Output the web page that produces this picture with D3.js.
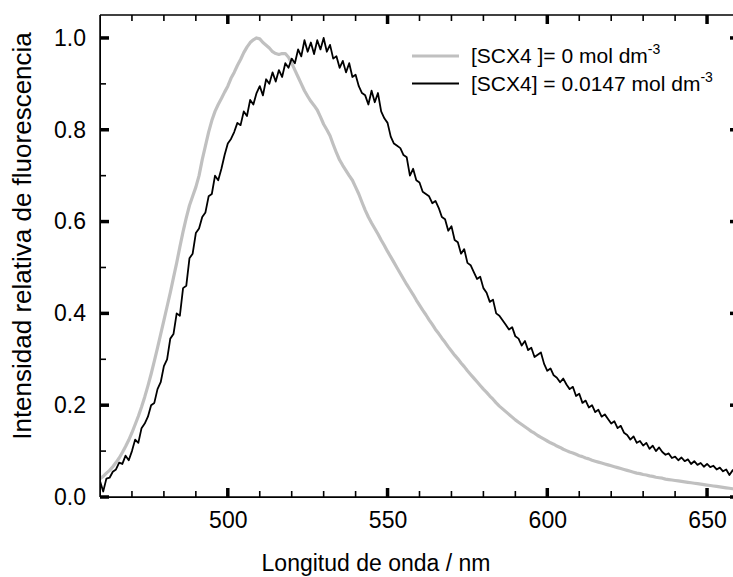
<!DOCTYPE html>
<html>
<head>
<meta charset="utf-8">
<script src="https://cdn.jsdelivr.net/npm/d3@7"></script>
<style>
  html, body { margin: 0; padding: 0; background: #fff; }
  svg { display: block; }
  text { font-family: "Liberation Sans", Arial, sans-serif; fill: #000; }
</style>
</head>
<body>
<div id="chart"></div>
<script>
// Emission spectra, wavelength grid 460–660 nm in 1 nm steps
const wavelengthStart = 460;
const wavelengthStep = 1;

// [SCX4] = 0 mol dm-3 (relative intensity)
const seriesFree = [
  0.040, 0.045, 0.052, 0.058, 0.066, 0.075, 0.085, 0.097, 0.110, 0.124,
  0.140, 0.158, 0.176, 0.196, 0.218, 0.242, 0.268, 0.296, 0.325, 0.355,
  0.385, 0.415, 0.445, 0.478, 0.510, 0.545, 0.578, 0.608, 0.635, 0.655,
  0.675, 0.700, 0.735, 0.765, 0.795, 0.820, 0.840, 0.855, 0.868, 0.882,
  0.895, 0.912, 0.925, 0.940, 0.953, 0.968, 0.980, 0.990, 0.996, 1.000,
  0.998, 0.990, 0.984, 0.978, 0.970, 0.966, 0.964, 0.966, 0.966, 0.958,
  0.945, 0.930, 0.915, 0.900, 0.885, 0.873, 0.862, 0.853, 0.843, 0.828,
  0.812, 0.800, 0.787, 0.768, 0.750, 0.734, 0.722, 0.711, 0.700, 0.690,
  0.675, 0.660, 0.642, 0.625, 0.610, 0.597, 0.585, 0.573, 0.560, 0.548,
  0.535, 0.523, 0.511, 0.499, 0.487, 0.475, 0.463, 0.452, 0.441, 0.429,
  0.418, 0.407, 0.397, 0.386, 0.376, 0.365, 0.356, 0.346, 0.337, 0.327,
  0.318, 0.309, 0.301, 0.292, 0.284, 0.275, 0.267, 0.259, 0.251, 0.243,
  0.235, 0.228, 0.220, 0.213, 0.205, 0.198, 0.192, 0.186, 0.180, 0.174,
  0.168, 0.163, 0.158, 0.153, 0.148, 0.143, 0.139, 0.134, 0.130, 0.126,
  0.122, 0.118, 0.115, 0.111, 0.108, 0.104, 0.101, 0.098, 0.096, 0.093,
  0.090, 0.088, 0.085, 0.083, 0.080, 0.078, 0.076, 0.074, 0.072, 0.070,
  0.068, 0.066, 0.064, 0.062, 0.060, 0.058, 0.056, 0.054, 0.052, 0.051,
  0.049, 0.048, 0.046, 0.045, 0.043, 0.042, 0.041, 0.039, 0.038, 0.037,
  0.036, 0.035, 0.034, 0.033, 0.032, 0.031, 0.030, 0.029, 0.028, 0.027,
  0.026, 0.025, 0.024, 0.023, 0.022, 0.021, 0.020, 0.019, 0.018, 0.018,
  0.017
];

// [SCX4] = 0.0147 mol dm-3 (relative intensity)
const seriesSCX4 = [
  0.035, 0.012, 0.040, 0.042, 0.055, 0.060, 0.075, 0.072, 0.090, 0.080,
  0.100, 0.125, 0.118, 0.150, 0.160, 0.175, 0.200, 0.205, 0.235, 0.250,
  0.285, 0.300, 0.345, 0.355, 0.400, 0.395, 0.455, 0.460, 0.520, 0.530,
  0.575, 0.585, 0.610, 0.620, 0.655, 0.660, 0.700, 0.690, 0.715, 0.745,
  0.770, 0.780, 0.795, 0.815, 0.810, 0.840, 0.830, 0.865, 0.855, 0.880,
  0.895, 0.875, 0.910, 0.900, 0.925, 0.905, 0.930, 0.915, 0.945, 0.935,
  0.955, 0.945, 0.975, 0.960, 0.995, 0.970, 0.990, 0.965, 0.995, 0.975,
  1.000, 0.970, 0.985, 0.955, 0.960, 0.935, 0.950, 0.925, 0.945, 0.915,
  0.920, 0.895, 0.880, 0.875, 0.855, 0.885, 0.860, 0.880, 0.840, 0.825,
  0.815, 0.785, 0.770, 0.765, 0.760, 0.745, 0.740, 0.700, 0.715, 0.690,
  0.685, 0.665, 0.660, 0.655, 0.640, 0.645, 0.630, 0.610, 0.605, 0.580,
  0.590, 0.560, 0.555, 0.530, 0.540, 0.510, 0.505, 0.490, 0.475, 0.480,
  0.455, 0.445, 0.425, 0.430, 0.400, 0.395, 0.385, 0.375, 0.365, 0.370,
  0.350, 0.345, 0.330, 0.340, 0.320, 0.325, 0.305, 0.310, 0.315, 0.290,
  0.275, 0.280, 0.265, 0.260, 0.250, 0.258, 0.245, 0.235, 0.240, 0.220,
  0.225, 0.205, 0.210, 0.195, 0.200, 0.185, 0.190, 0.175, 0.180, 0.170,
  0.160, 0.165, 0.150, 0.155, 0.140, 0.135, 0.125, 0.132, 0.118, 0.122,
  0.112, 0.118, 0.105, 0.112, 0.100, 0.108, 0.098, 0.092, 0.095, 0.085,
  0.088, 0.080, 0.086, 0.078, 0.082, 0.072, 0.078, 0.070, 0.074, 0.066,
  0.072, 0.065, 0.068, 0.060, 0.064, 0.056, 0.060, 0.048, 0.058, 0.062,
  0.070
];

const xMajorTicks = [500, 550, 600, 650];
const xMinorTicks = [470, 480, 490, 510, 520, 530, 540, 560, 570, 580, 590, 610, 620, 630, 640, 660];
const yMajorTicks = [0.0, 0.2, 0.4, 0.6, 0.8, 1.0];
const yMinorTicks = [0.1, 0.3, 0.5, 0.7, 0.9];

const legendLabels = [
  { main: "[SCX4 ]= 0 mol dm", sup: "-3" },
  { main: "[SCX4] = 0.0147 mol dm", sup: "-3" }
];
const seriesColors = ["#c0c0c0", "#000000"];
const seriesWidths = [3.2, 1.8];

const width = 733, height = 577;
const margin = { left: 100, top: 15, right: 739, bottom: 497 };
const tickFont = 23, xTitleFont = 23, yTitleFont = 26, legendFont = 21;

const svg = d3.select("#chart").append("svg")
  .attr("width", width).attr("height", height);

const x = d3.scaleLinear().domain([460, 660]).range([margin.left, margin.right]);
const y = d3.scaleLinear().domain([0, 1.05]).range([margin.bottom, margin.top]);

const toPoints = arr => arr.map((v, i) => [wavelengthStart + i * wavelengthStep, v]);

const clipId = "plot-clip";
svg.append("clipPath").attr("id", clipId)
  .append("rect")
  .attr("x", margin.left).attr("y", margin.top)
  .attr("width", margin.right - margin.left).attr("height", margin.bottom - margin.top);

const line = d3.line().x(d => x(d[0])).y(d => y(d[1]));

const plot = svg.append("g").attr("clip-path", `url(#${clipId})`);
[seriesFree, seriesSCX4].forEach((s, i) => {
  plot.append("path")
    .datum(toPoints(s))
    .attr("fill", "none")
    .attr("stroke", seriesColors[i])
    .attr("stroke-width", seriesWidths[i])
    .attr("stroke-linejoin", "round")
    .attr("d", line);
});

// Frame and tick labels via d3 axes (tick lines drawn separately below)
const frameWidth = 1.5;
const bottomAxis = svg.append("g").attr("transform", `translate(0,${margin.bottom})`)
  .call(d3.axisBottom(x).tickValues(xMajorTicks).tickSize(0).tickSizeOuter(0)
    .tickFormat(d3.format("d")).tickPadding(15));
bottomAxis.selectAll(".tick text").attr("font-size", tickFont).attr("font-family", "Liberation Sans, Arial, sans-serif");

const leftAxis = svg.append("g").attr("transform", `translate(${margin.left},0)`)
  .call(d3.axisLeft(y).tickValues(yMajorTicks).tickSize(0).tickSizeOuter(0)
    .tickFormat(d3.format(".1f")).tickPadding(14));
leftAxis.selectAll(".tick text").attr("font-size", tickFont).attr("font-family", "Liberation Sans, Arial, sans-serif");

const frame = svg.append("g").attr("stroke", "#000").attr("stroke-width", frameWidth).attr("fill", "none");
frame.append("line").attr("x1", margin.left).attr("x2", margin.right).attr("y1", margin.bottom).attr("y2", margin.bottom);
frame.append("line").attr("x1", margin.left).attr("x2", margin.right).attr("y1", margin.top).attr("y2", margin.top);
frame.append("line").attr("x1", margin.left).attr("x2", margin.left).attr("y1", margin.top).attr("y2", margin.bottom);
frame.append("line").attr("x1", margin.right).attr("x2", margin.right).attr("y1", margin.top).attr("y2", margin.bottom);

// Inward ticks on all four sides
const majorLen = 9, minorLen = 6, majorW = 3.5, minorW = 1.6;
const ticks = svg.append("g").attr("stroke", "#000");
const xTick = (vals, len, w) => {
  ticks.selectAll(null).data(vals).enter().append("line")
    .attr("x1", d => x(d)).attr("x2", d => x(d))
    .attr("y1", margin.bottom).attr("y2", margin.bottom - len)
    .attr("stroke-width", w);
  ticks.selectAll(null).data(vals).enter().append("line")
    .attr("x1", d => x(d)).attr("x2", d => x(d))
    .attr("y1", margin.top).attr("y2", margin.top + len)
    .attr("stroke-width", w);
};
const yTick = (vals, len, w) => {
  ticks.selectAll(null).data(vals).enter().append("line")
    .attr("y1", d => y(d)).attr("y2", d => y(d))
    .attr("x1", margin.left).attr("x2", margin.left + len)
    .attr("stroke-width", w);
  ticks.selectAll(null).data(vals).enter().append("line")
    .attr("y1", d => y(d)).attr("y2", d => y(d))
    .attr("x1", margin.right).attr("x2", margin.right - len)
    .attr("stroke-width", w);
};
xTick(xMajorTicks, majorLen, majorW);
xTick(xMinorTicks, minorLen, minorW);
yTick(yMajorTicks, majorLen, majorW);
yTick(yMinorTicks, minorLen, minorW);

// Axis titles
svg.append("text")
  .attr("x", 376).attr("y", 571)
  .attr("text-anchor", "middle")
  .attr("font-size", xTitleFont)
  .text("Longitud de onda / nm");

svg.append("text")
  .attr("transform", "translate(31,236) rotate(-90)")
  .attr("text-anchor", "middle")
  .attr("font-size", yTitleFont)
  .text("Intensidad relativa de fluorescencia");

// Legend
const legend = svg.append("g");
legendLabels.forEach((lab, i) => {
  const ly = 56 + i * 27.5;
  legend.append("line")
    .attr("x1", 412).attr("x2", 459)
    .attr("y1", ly).attr("y2", ly)
    .attr("stroke", seriesColors[i])
    .attr("stroke-width", seriesWidths[i]);
  const t = legend.append("text")
    .attr("x", 471).attr("y", ly + 7)
    .attr("font-size", legendFont);
  t.append("tspan").text(lab.main);
  t.append("tspan").attr("font-size", 14).attr("dy", -9).text(lab.sup);
});
</script>
</body>
</html>
